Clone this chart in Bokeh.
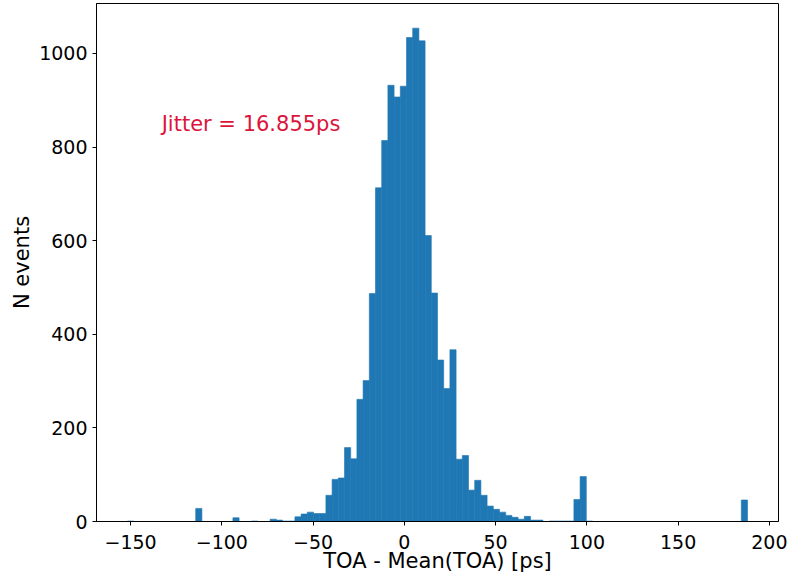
import numpy as np
from bokeh.plotting import figure
from bokeh.models import ColumnDataSource, FixedTicker, Range1d, Label
from bokeh.embed import file_html
from bokeh.resources import INLINE

# ---- data ----
bin_start = -151.7
bin_width = 3.397
counts = [
    1, 0, 0, 0, 0, 0, 0, 0, 0, 0,
    0, 28, 0, 0, 0, 0, 0, 8, 0, 0,
    1, 0, 0, 5, 3, 1, 1, 10, 16, 20,
    17, 17, 56, 90, 93, 158, 134, 261, 301, 487,
    713, 814, 932, 907, 930, 1034, 1054, 1027, 611, 488,
    345, 284, 367, 133, 141, 67, 88, 56, 33, 26,
    20, 13, 9, 5, 11, 3, 3, 0, 1, 1,
    1, 1, 47, 96, 1, 0, 0, 0, 0, 0,
    0, 0, 0, 0, 0, 0, 0, 0, 0, 0,
    0, 0, 0, 0, 0, 0, 0, 0, 0, 46,
]
x_ticks = [-150, -100, -50, 0, 50, 100, 150, 200]
y_ticks = [0, 200, 400, 600, 800, 1000]
x_label = "TOA - Mean(TOA) [ps]"
y_label = "N events"
jitter_text = "Jitter = 16.855ps"
jitter_pos = (-133.0, 850.0)

edges = bin_start + bin_width * np.arange(len(counts) + 1)
src = ColumnDataSource(dict(left=edges[:-1], right=edges[1:], top=counts,
                            bottom=[0] * len(counts)))

lo, hi = edges[0], edges[-1]
pad = 0.05 * (hi - lo)
ymax = max(counts) * 1.05

FONT = "DejaVu Sans"

p = figure(width=788, height=575, output_backend="svg", toolbar_location=None,
           x_range=Range1d(lo - pad, hi + pad), y_range=Range1d(0, ymax),
           min_border_left=96, min_border_right=10, min_border_top=3,
           min_border_bottom=53)
p.quad(left="left", right="right", top="top", bottom="bottom", source=src,
       fill_color="#1f77b4", line_color="#1f77b4", line_width=0.6)

p.xgrid.visible = False
p.ygrid.visible = False
p.outline_line_color = "black"
p.outline_line_width = 1
p.background_fill_color = "white"
p.border_fill_color = "white"

p.xaxis.ticker = FixedTicker(ticks=x_ticks)
p.yaxis.ticker = FixedTicker(ticks=y_ticks)
p.xaxis.major_label_overrides = {t: (str(t).replace("-", "\u2212")) for t in x_ticks}

for ax in (p.xaxis[0], p.yaxis[0]):
    ax.axis_line_color = "black"
    ax.major_tick_line_color = "black"
    ax.major_tick_out = 4
    ax.major_tick_in = 0
    ax.minor_tick_line_color = None
    ax.major_label_text_font = FONT
    ax.major_label_text_font_size = "19px"
    ax.major_label_text_color = "black"
    ax.major_label_text_line_height = 1.0
    ax.axis_label_text_font = FONT
    ax.axis_label_text_font_size = "21px"
    ax.axis_label_text_font_style = "normal"
    ax.axis_label_text_color = "black"
    ax.axis_label_text_line_height = 1.0

p.xaxis.axis_label = x_label
p.yaxis.axis_label = y_label
p.xaxis.major_label_standoff = 9
p.xaxis.axis_label_standoff = -3
p.yaxis.major_label_standoff = 5
p.yaxis.axis_label_standoff = 2

p.add_layout(Label(x=jitter_pos[0], y=jitter_pos[1], text=jitter_text,
                   text_font=FONT, text_font_size="21px", text_color="#dc143c",
                   text_align="left", text_baseline="alphabetic"))

open("out.html", "w").write(file_html(p, INLINE))
